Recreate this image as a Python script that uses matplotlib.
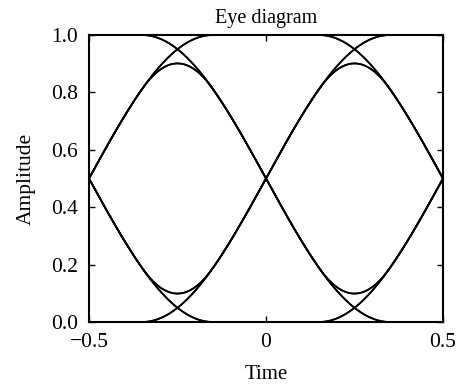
import numpy as np
import matplotlib
matplotlib.use("Agg")
import matplotlib.pyplot as plt

# Transmitted bit stream (order-4 de Bruijn sequence, so every 4-bit pattern appears)
bits = [0, 0, 0, 0, 1, 0, 0, 1, 1, 0, 1, 0, 1, 1, 1, 1]
symbol_period = 0.5      # seconds per bit
edge_half_width = 0.35   # half-duration of each sinusoidal transition
x_ticks = [-0.5, 0, 0.5]
x_tick_labels = ["\u22120.5", "0", "0.5"]
y_ticks = [0.0, 0.2, 0.4, 0.6, 0.8, 1.0]
y_tick_labels = ["0.0", "0.2", "0.4", "0.6", "0.8", "1.0"]


def edge(u):
    """Smooth 0->1 step centred at u = 0 with a half-sine profile."""
    u = np.clip(u, -edge_half_width, edge_half_width)
    return 0.5 + 0.5 * np.sin(np.pi * u / (2 * edge_half_width))


# Wrap the sequence so the cyclic patterns are all available
n = len(bits)
seq = bits[-3:] + bits + bits[:4]
samples_per_bit = 200
t = np.arange(len(seq) * samples_per_bit) * (symbol_period / samples_per_bit)
signal = np.zeros_like(t)
for k, b in enumerate(seq):
    signal += b * (edge(t - k * symbol_period) - edge(t - (k + 1) * symbol_period))

fig = plt.figure(figsize=(4.65, 3.85), dpi=100)
ax = fig.add_axes([0.1914, 0.1636, 0.7613, 0.7455])

# Overlay two-bit-long windows, each centred on a bit boundary
for k in range(3, 3 + n):
    start = k * samples_per_bit
    stop = start + 2 * samples_per_bit + 1
    seg_t = t[start:stop] - k * symbol_period - symbol_period
    ax.plot(seg_t, signal[start:stop], color="black", lw=1.25, solid_capstyle="butt")

ax.set_xlim(-0.5, 0.5)
ax.set_ylim(0.0, 1.0)
ax.set_xticks(x_ticks)
ax.set_xticklabels(x_tick_labels)
ax.set_yticks(y_ticks)
ax.set_yticklabels(y_tick_labels)

serif = ["Liberation Serif", "DejaVu Serif"]
ax.tick_params(direction="in", length=4, width=1.0, top=True, right=True,
               labelsize=15.5, pad=8)
for lab in ax.get_xticklabels() + ax.get_yticklabels():
    lab.set_family(serif)
for s in ax.spines.values():
    s.set_linewidth(1.5)

ax.set_title("Eye diagram", family=serif, fontsize=14.5, pad=8.5)
ax.set_xlabel("Time", family=serif, fontsize=15, labelpad=9.5)
ax.set_ylabel("Amplitude", family=serif, fontsize=15.5, labelpad=11)

fig.savefig("out.png", dpi=100)
